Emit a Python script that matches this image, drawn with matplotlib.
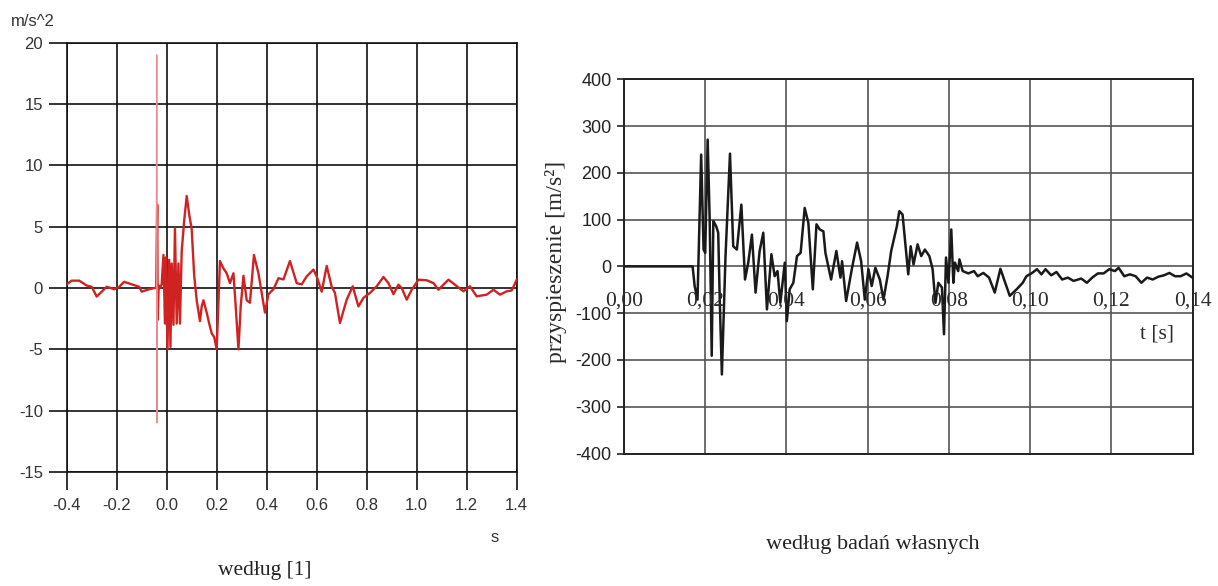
import matplotlib
matplotlib.use("Agg")
import matplotlib.pyplot as plt
import matplotlib.transforms as mtransforms

plt.rcParams['axes.unicode_minus'] = False

# ---------------- data: left chart (według [1]) ----------------
left_t = [-0.40, -0.38, -0.35, -0.32, -0.30, -0.28, -0.26, -0.24, -0.21, -0.19,
          -0.17, -0.14, -0.11, -0.10, -0.07, -0.05, -0.042, -0.038, -0.036, -0.032,
          -0.027, -0.020, -0.013, -0.007, -0.003, 0.003, 0.010, 0.015, 0.020, 0.027,
          0.033, 0.040, 0.047, 0.053, 0.060, 0.070, 0.080, 0.090, 0.100, 0.110,
          0.120, 0.133, 0.140, 0.147, 0.160, 0.170, 0.180, 0.190, 0.200, 0.213,
          0.227, 0.240, 0.253, 0.267, 0.276, 0.287, 0.296, 0.307, 0.320, 0.333,
          0.349, 0.367, 0.380, 0.393, 0.407, 0.427, 0.447, 0.467, 0.493, 0.520,
          0.540, 0.560, 0.587, 0.600, 0.620, 0.640, 0.660, 0.673, 0.693, 0.720,
          0.744, 0.767, 0.787, 0.813, 0.840, 0.867, 0.887, 0.907, 0.927, 0.940,
          0.960, 0.980, 1.007, 1.040, 1.067, 1.087, 1.127, 1.153, 1.187, 1.213,
          1.240, 1.280, 1.307, 1.333, 1.360, 1.380, 1.400]
left_a = [0.3, 0.6, 0.6, 0.2, 0.1, -0.7, -0.3, 0.1, -0.1, 0.1,
          0.5, 0.3, 0.1, -0.3, -0.1, 0.0, 0.0, 6.8, -2.6, 0.2,
          0.0, 0.3, 2.7, -2.9, 2.5, -5.0, 2.3, -4.8, 2.0, -3.0,
          4.9, -2.9, 2.0, -2.9, 3.0, 5.5, 7.5, 6.0, 4.8, 1.0,
          -1.0, -2.7, -1.5, -1.0, -2.0, -2.9, -3.7, -4.0, -5.0, 2.2,
          1.6, 1.2, 0.4, 1.2, -1.5, -5.0, -1.5, 1.0, -1.0, -1.2,
          2.7, 1.2, -0.4, -2.0, -0.5, -0.1, 0.8, 0.7, 2.2, 0.4,
          0.3, 0.95, 1.5, 0.95, -0.3, 1.8, 0.1, -0.4, -2.85, -0.95,
          0.14, -1.5, -0.8, -0.4, 0.14, 0.9, 0.4, -0.5, 0.27, 0.0,
          -0.95, -0.14, 0.68, 0.63, 0.4, -0.14, 0.68, 0.27, -0.27, 0.14,
          -0.68, -0.54, -0.14, -0.54, -0.27, -0.2, 0.68]
spike_t = [-0.041, -0.040, -0.039, -0.038]
spike_a = [0.0, 19.0, -11.0, 0.0]

left_xticks = [-0.4, -0.2, 0.0, 0.2, 0.4, 0.6, 0.8, 1.0, 1.2, 1.4]
left_xlabels = ["-0.4", "-0.2", "0.0", "0.2", "0.4", "0.6", "0.8", "1.0", "1.2", "1.4"]
left_yticks = [-15, -10, -5, 0, 5, 10, 15, 20]
left_ylabels = ["-15", "-10", "-5", "0", "5", "10", "15", "20"]

# ---------------- data: right chart (według badań własnych) ----------------
right_t = [0.0, 0.0169, 0.0174, 0.0181, 0.0190, 0.0196, 0.0200, 0.0206, 0.0211, 0.0216,
           0.0220, 0.0227, 0.0232, 0.0236, 0.0241, 0.0250, 0.0261, 0.0269, 0.0278, 0.0289,
           0.0298, 0.0306, 0.0315, 0.0324, 0.0334, 0.0343, 0.0352, 0.0363, 0.0371, 0.0378,
           0.0385, 0.0396, 0.0401, 0.0408, 0.0417, 0.0426, 0.0435, 0.0445, 0.0454, 0.0465,
           0.0474, 0.0482, 0.0491, 0.0496, 0.0510, 0.0523, 0.0533, 0.0537, 0.0547, 0.0561,
           0.0574, 0.0584, 0.0593, 0.0602, 0.0610, 0.0619, 0.0630, 0.0639, 0.0649, 0.0658,
           0.0672, 0.0678, 0.0686, 0.0700, 0.0706, 0.0713, 0.0723, 0.0732, 0.0741, 0.0752,
           0.0760, 0.0767, 0.0774, 0.0783, 0.0788, 0.0793, 0.0799, 0.0806, 0.0811, 0.0815,
           0.0823, 0.0826, 0.0834, 0.0848, 0.0862, 0.0871, 0.0885, 0.0899, 0.0913, 0.0927,
           0.0936, 0.0950, 0.0968, 0.0982, 0.0991, 0.1005, 0.1017, 0.1028, 0.1038, 0.1052,
           0.1065, 0.1079, 0.1093, 0.1107, 0.1126, 0.1140, 0.1153, 0.1167, 0.1181, 0.1195,
           0.1209, 0.1218, 0.1232, 0.1246, 0.1260, 0.1274, 0.1288, 0.1302, 0.1316, 0.1330,
           0.1343, 0.1357, 0.1371, 0.1385, 0.1400]
right_a = [0, 0, -42, -71, 239, 36, 29, 271, 100, -191,
           97, 86, 72, -78, -231, 22, 241, 43, 36, 132,
           -28, 8, 68, -56, 33, 72, -92, 26, -21, -10,
           -78, 8, -117, -49, -35, 22, 29, 125, 93, -49,
           90, 79, 75, 29, -28, 33, -24, 11, -74, -6,
           51, 11, -71, -6, -42, -3, -28, -71, -21, 33,
           86, 118, 111, -17, 43, 4, 47, 22, 36, 22,
           -6, -78, -35, -45, -145, 19, -35, 79, -35, 8,
           -10, 15, -10, -15, -10, -21, -14, -24, -56, -5,
           -28, -63, -48, -35, -21, -14, -6, -17, -6, -19,
           -12, -28, -24, -31, -26, -35, -24, -15, -15, -6,
           -10, -3, -21, -17, -21, -35, -24, -28, -22, -19,
           -14, -21, -21, -15, -24]

right_xticks = [0.0, 0.02, 0.04, 0.06, 0.08, 0.10, 0.12, 0.14]
right_xlabels = ["0,00", "0,02", "0,04", "0,06", "0,08", "0,10", "0,12", "0,14"]
right_yticks = [-400, -300, -200, -100, 0, 100, 200, 300, 400]
right_ylabels = ["-400", "-300", "-200", "-100", "0", "100", "200", "300", "400"]

W, H = 1218, 586
fig = plt.figure(figsize=(W / 100, H / 100), dpi=100)
fig.patch.set_facecolor("white")

def box(l, t, r, b):
    return [l / W, 1 - b / H, (r - l) / W, (b - t) / H]

# ---------------- left chart ----------------
ax1 = fig.add_axes(box(66.7, 42.7, 516.7, 472.0))
ax1.plot(left_t, left_a, color="#d02222", lw=1.7, zorder=3)
ax1.plot(spike_t, spike_a, color="#f08a8a", lw=1.0, zorder=3)
ax1.set_xlim(-0.4, 1.4)
ax1.set_ylim(-15, 20)
ax1.set_xticks(left_xticks)
ax1.set_xticklabels(left_xlabels)
ax1.set_yticks(left_yticks)
ax1.set_yticklabels(left_ylabels)
ax1.grid(True, color="#111111", lw=1.2)
ax1.set_axisbelow(True)
for s in ax1.spines.values():
    s.set_color("#111111")
    s.set_linewidth(1.2)
ax1.tick_params(axis="both", direction="out", length=13, width=1.2, color="#111111",
                labelsize=12, labelcolor="#333333")
ax1.tick_params(axis="x", pad=6)
ax1.tick_params(axis="y", pad=4)
for lab in ax1.get_xticklabels() + ax1.get_yticklabels():
    lab.set_family("Liberation Sans")
fig.text(33 / W, 1 - 21 / H, "m/s^2", ha="center", va="center", fontsize=12,
         color="#333333", family="Liberation Sans")
fig.text(495 / W, 1 - 538 / H, "s", ha="center", va="center", fontsize=12,
         color="#333333", family="Liberation Sans")
fig.text(265 / W, 1 - 571 / H, "według [1]", ha="center", va="center", fontsize=15.5,
         color="#222222", family="Liberation Serif")

# ---------------- right chart ----------------
ax2 = fig.add_axes(box(624.0, 79.3, 1192.5, 453.5))
ax2.plot(right_t, right_a, color="#1a1a1a", lw=1.8, zorder=3)
ax2.set_xlim(0, 0.14)
ax2.set_ylim(-400, 400)
ax2.set_xticks(right_xticks)
ax2.set_xticklabels([])
ax2.set_yticks(right_yticks)
ax2.set_yticklabels(right_ylabels)
ax2.grid(True, color="#555555", lw=1.2)
ax2.set_axisbelow(True)
for s in ax2.spines.values():
    s.set_color("#222222")
    s.set_linewidth(1.4)
ax2.tick_params(axis="x", length=0)
ax2.tick_params(axis="y", direction="out", length=5, width=1.2, color="#222222",
                labelsize=13, labelcolor="#222222", pad=4)
for lab in ax2.get_yticklabels():
    lab.set_family("Liberation Sans")
off = mtransforms.ScaledTranslation(0, -0.25, fig.dpi_scale_trans)
for tx, lab in zip(right_xticks, right_xlabels):
    ax2.text(tx, 0, lab, transform=ax2.transData + off, ha="center", va="top",
             fontsize=15.5, color="#2a2a2a", family="Liberation Serif", zorder=4)
ax2.text(0.1312, -145, "t [s]", ha="center", va="center", fontsize=15.5,
         color="#2a2a2a", family="Liberation Serif")
fig.text(556 / W, 1 - 262 / H, "przyspieszenie [m/s²]", rotation=90, ha="center",
         va="center", fontsize=17, color="#2a2a2a", family="Liberation Serif")
fig.text(873 / W, 1 - 545 / H, "według badań własnych", ha="center", va="center",
         fontsize=16, color="#222222", family="Liberation Serif")

fig.savefig("out.png", dpi=100, facecolor="white")
